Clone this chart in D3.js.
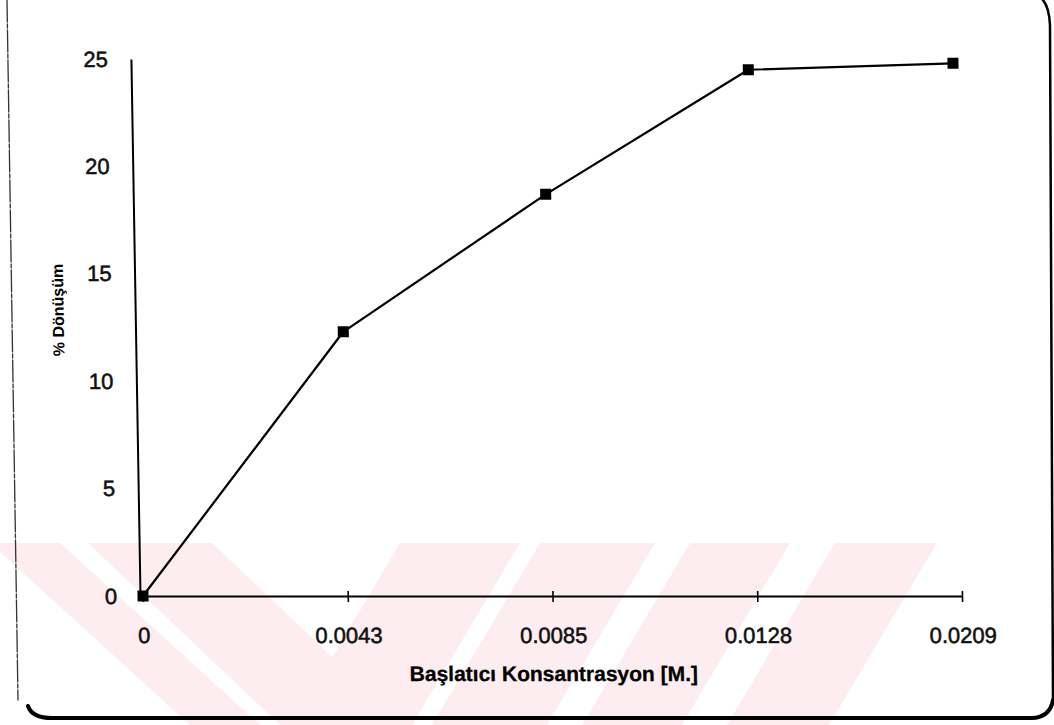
<!DOCTYPE html>
<html>
<head>
<meta charset="utf-8">
<script src="https://cdn.jsdelivr.net/npm/d3@7"></script>
<style>
  html, body { margin: 0; padding: 0; background: #fff; }
  svg { display: block; }
</style>
</head>
<body>
<svg id="chart" width="1054" height="725"></svg>
<script>
// Conversion (%) versus initiator concentration
const concentrations = ["0", "0.0043", "0.0085", "0.0128", "0.0209"];
const conversion = [0, 12.3, 18.7, 24.5, 24.8];
const yTicks = [0, 5, 10, 15, 20, 25];
const xTitle = "Başlatıcı Konsantrasyon [M.]";
const yTitle = "% Dönüşüm";

const svg = d3.select("#chart");
const baseY = 596;

const x = d3.scalePoint().domain(concentrations).range([143, 962]);
const y = d3.scaleLinear().domain([0, 25]).range([baseY, 59]);

// faint diagonal band pattern along the lower edge of the page
const band = svg.append("g").attr("fill", "#feedf0");
const bTop = 543, bBot = 725;
const backBands = [[-10, 60, 190, 260], [88, 212, 280, 404]];
const fwdBands = [[400, 520, 292, 412], [540, 655, 432, 547], [690, 790, 582, 682], [835, 937, 727, 829]];
[...backBands, ...fwdBands].forEach(b => {
  band.append("polygon")
    .attr("points", `${b[0]},${bTop} ${b[1]},${bTop} ${b[3]},${bBot} ${b[2]},${bBot}`);
});

// page frame
const frame = svg.append("g").attr("fill", "none").attr("stroke-linecap", "round");
frame.append("path").attr("d", "M7,0 L18,700")
  .attr("stroke", "#333").attr("stroke-width", 1.3).attr("stroke-dasharray", "22 2 4 2");
frame.append("path").attr("d", "M28,706 Q32,718 52,718 L1032,718 Q1050,717 1053,700")
  .attr("stroke", "#000").attr("stroke-width", 4);
frame.append("path").attr("d", "M1053,702 L1050,25 Q1049,4 1040,-3")
  .attr("stroke", "#000").attr("stroke-width", 2.5);

// plot area, slightly sheared
const plot = svg.append("g")
  .attr("transform", `translate(0,${baseY}) skewX(0.97) translate(0,${-baseY})`);

const tickFont = "'Liberation Sans', Arial, sans-serif";

// y axis
const yAxis = plot.append("g")
  .attr("transform", "translate(140,0)")
  .call(d3.axisLeft(y).tickValues(yTicks).tickSize(0).tickPadding(23).tickFormat(d3.format("d")));
yAxis.select(".domain").attr("stroke", "#000").attr("stroke-width", 2);
yAxis.selectAll("text")
  .attr("font-family", tickFont).attr("font-size", 22)
  .attr("fill", "#111").attr("stroke", "#111").attr("stroke-width", 0.55);

// x axis
const xAxis = plot.append("g")
  .attr("transform", `translate(0,${baseY})`)
  .call(d3.axisBottom(x).tickSizeInner(6).tickSizeOuter(0).tickPadding(25));
xAxis.select(".domain").attr("stroke", "#000").attr("stroke-width", 2);
xAxis.selectAll(".tick line").attr("y1", -5).attr("y2", 6).attr("stroke", "#000").attr("stroke-width", 1.6);
xAxis.selectAll("text")
  .attr("font-family", tickFont).attr("font-size", 22)
  .attr("fill", "#111").attr("stroke", "#111").attr("stroke-width", 0.55);

// axis titles
plot.append("text")
  .attr("x", (x.range()[0] + x.range()[1]) / 2)
  .attr("y", 681)
  .attr("text-anchor", "middle")
  .attr("font-family", tickFont).attr("font-weight", "bold").attr("font-size", 21)
  .attr("fill", "#000").attr("stroke", "#000").attr("stroke-width", 0.3)
  .text(xTitle);

plot.append("text")
  .attr("transform", "translate(63,310) rotate(-90)")
  .attr("text-anchor", "middle")
  .attr("dominant-baseline", "central")
  .attr("font-family", tickFont).attr("font-weight", "bold").attr("font-size", 16)
  .attr("fill", "#000")
  .text(yTitle);

// data series
const points = concentrations.map((c, i) => ({ c, v: conversion[i] }));
plot.append("path")
  .datum(points)
  .attr("fill", "none").attr("stroke", "#000").attr("stroke-width", 2.2)
  .attr("stroke-linejoin", "round")
  .attr("d", d3.line().x(d => x(d.c)).y(d => y(d.v)));

const m = 11;
plot.selectAll("rect.marker")
  .data(points)
  .join("rect")
  .attr("class", "marker")
  .attr("x", d => x(d.c) - m / 2)
  .attr("y", d => y(d.v) - m / 2)
  .attr("width", m).attr("height", m)
  .attr("fill", "#000");
</script>
</body>
</html>
